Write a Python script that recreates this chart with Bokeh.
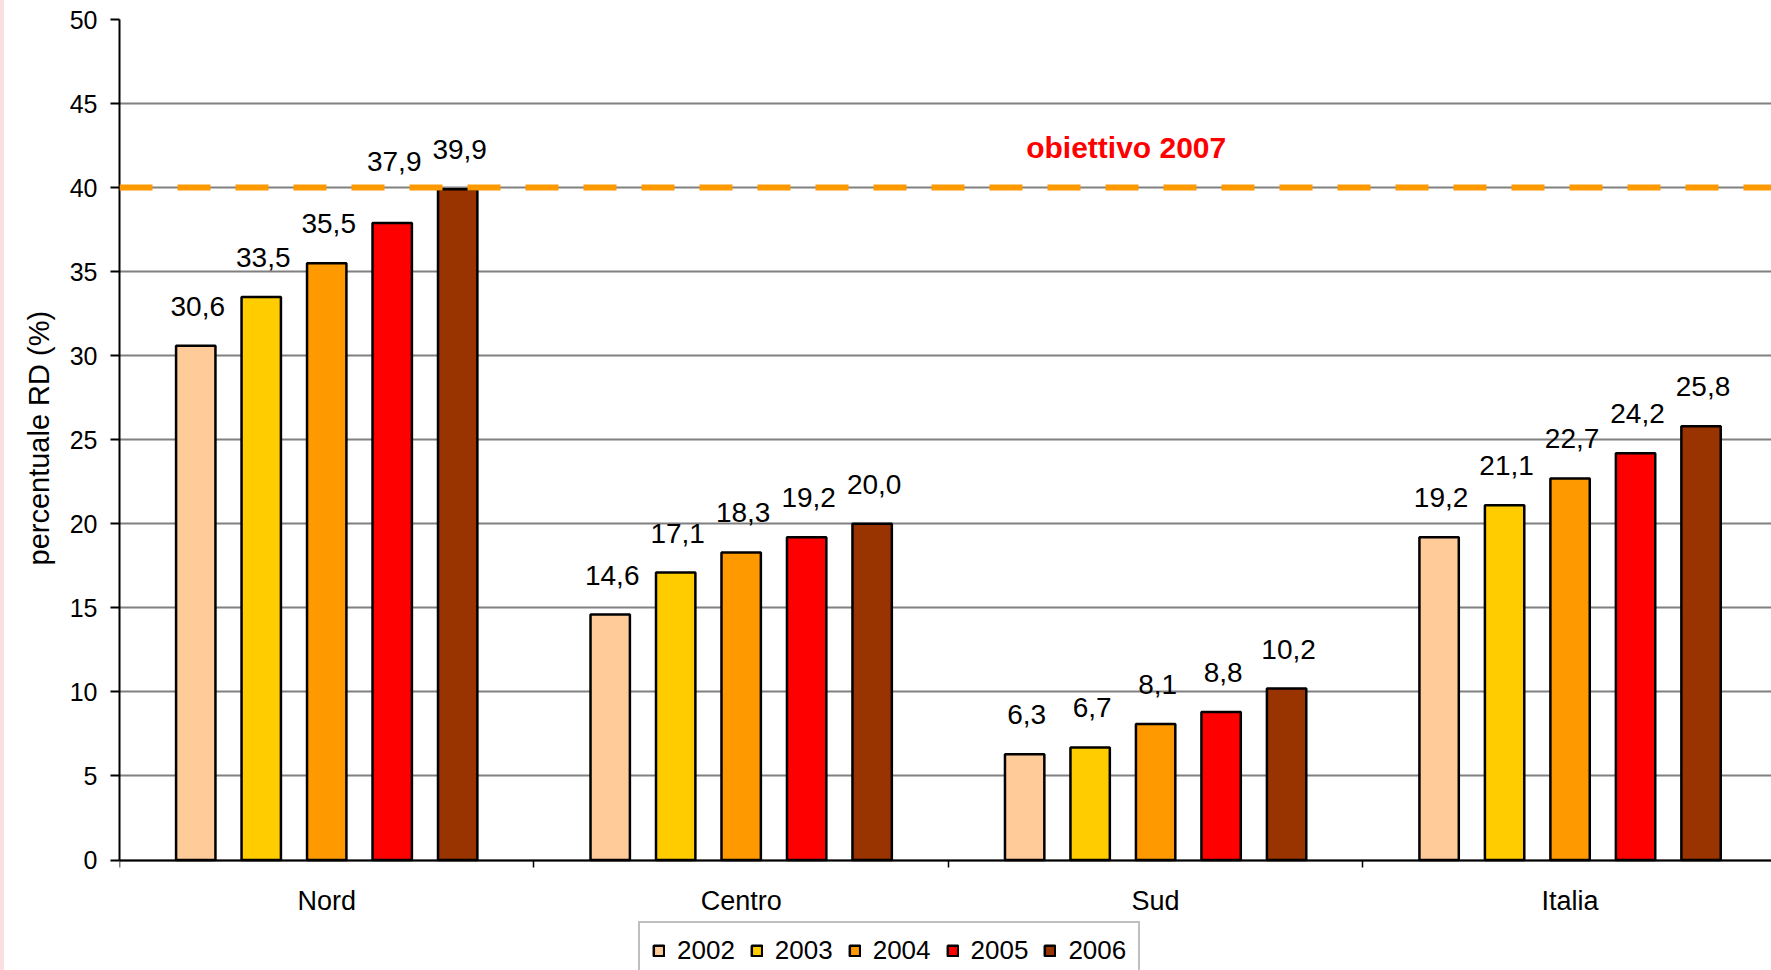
from bokeh.plotting import figure
from bokeh.models import (ColumnDataSource, Range1d, FixedTicker, Legend, LegendItem,
                          LabelSet, Label, Span, Spacer, Title)
from bokeh.core.properties import value
from bokeh.transform import dodge
from bokeh.layouts import row
from bokeh.embed import file_html
from bokeh.resources import INLINE

# ---- data ----
categories = ["Nord", "Centro", "Sud", "Italia"]
years = ["2002", "2003", "2004", "2005", "2006"]
v2002 = [30.6, 14.6, 6.3, 19.2]
v2003 = [33.5, 17.1, 6.7, 21.1]
v2004 = [35.5, 18.3, 8.1, 22.7]
v2005 = [37.9, 19.2, 8.8, 24.2]
v2006 = [39.9, 20.0, 10.2, 25.8]
series = [v2002, v2003, v2004, v2005, v2006]
colors = ["#FFCC99", "#FFCC00", "#FF9900", "#FF0000", "#993300"]
target = 40
target_label = "obiettivo 2007"
y_title = "percentuale RD (%)"
y_ticks = [0, 5, 10, 15, 20, 25, 30, 35, 40, 45, 50]

FONT = "Liberation Sans"

centers = [i + 0.5 for i in range(len(categories))]
offsets = [-0.316, -0.158, 0.0, 0.158, 0.316]
# extra lift (px) of a hand-moved data label in the original
label_lift = {("Nord", "2005"): 22}

p = figure(width=1767, height=970, output_backend="svg", toolbar_location=None,
           x_range=Range1d(0, 3.986), y_range=Range1d(-6.57, 50),
           min_border_left=115, min_border_right=0, min_border_top=19,
           min_border_bottom=0)
p.outline_line_color = None
p.background_fill_color = "white"
p.border_fill_color = "white"

items = []
for yr, vals, col, off in zip(years, series, colors, offsets):
    src = ColumnDataSource(dict(
        xc=centers, val=vals,
        lbl=[f"{v:.1f}".replace(".", ",") for v in vals],
        lift=[30 + label_lift.get((c, yr), 0) for c in categories]))
    r = p.vbar(x=dodge("xc", off, range=p.x_range), top="val", bottom=0,
               width=0.095, source=src, fill_color=col, line_color="black",
               line_width=2.5)
    items.append(LegendItem(label=yr, renderers=[r]))
    ls = LabelSet(x=dodge("xc", off, range=p.x_range), y="val", text="lbl",
                  source=src, text_align="center", text_baseline="alphabetic",
                  y_offset="lift", x_offset=2, text_font_size=value("28px"),
                  text_font=value(FONT), text_color="black")
    p.add_layout(ls)

# target line
span = Span(location=target, dimension="width", line_color="#FF9900",
            line_width=6, line_dash="33 25")
p.add_layout(span)
p.add_layout(Label(x=2.429, y=target, y_offset=40, text=target_label,
                   text_align="center", text_baseline="alphabetic",
                   text_color="#FF0000", text_font_size="30px",
                   text_font_style="bold", text_font=FONT))

# y axis
p.yaxis.ticker = FixedTicker(ticks=y_ticks)
p.yaxis.bounds = (0, 50)
p.yaxis.major_label_text_font = FONT
p.yaxis.major_label_text_font_size = "25px"
p.yaxis.major_label_text_color = "black"
p.yaxis.major_label_standoff = 13
p.yaxis.axis_line_color = "black"
p.yaxis.axis_line_width = 2
p.yaxis.major_tick_line_color = "black"
p.yaxis.major_tick_line_width = 2
p.yaxis.major_tick_out = 9
p.yaxis.major_tick_in = 0
p.yaxis.minor_tick_line_color = None

# y axis title, placed along the 0..50 span rather than the whole frame
p.add_layout(Title(text=y_title, align="left", offset=405, standoff=20,
                   vertical_align="top", text_line_height=1.5,
                   text_font=FONT, text_font_size="29px",
                   text_font_style="normal", text_color="black"), "left")

# x axis, pinned at y = 0
xa = p.xaxis[0]
xa.fixed_location = 0
xa.ticker = FixedTicker(ticks=centers, minor_ticks=[0, 1, 2, 3, 4])
xa.major_label_overrides = {c: n for c, n in zip(centers, categories)}
xa.major_label_text_font = FONT
xa.major_label_text_font_size = "27px"
xa.major_label_text_color = "black"
xa.major_label_standoff = 19
xa.major_tick_line_color = None
xa.major_tick_out = 0
xa.minor_tick_line_color = "black"
xa.minor_tick_line_width = 1.5
xa.minor_tick_out = 7
xa.minor_tick_in = 0
xa.axis_line_color = "black"
xa.axis_line_width = 2

# grid
p.xgrid.grid_line_color = None
p.ygrid.grid_line_color = "#808080"
p.ygrid.grid_line_width = 2

legend = Legend(items=items, orientation="horizontal", location=(519, -10),
                label_text_font=FONT, label_text_font_size="26px",
                label_text_color="black",
                glyph_width=13, glyph_height=13, label_standoff=12, spacing=15,
                padding=12, margin=0, border_line_color="#808080",
                border_line_width=2, background_fill_color="white")
p.add_layout(legend, "center")

strip = Spacer(width=4, height=970, styles={"background-color": "#F9DEE2"})
layout = row(strip, p)

open("out.html", "w").write(file_html(layout, INLINE))
